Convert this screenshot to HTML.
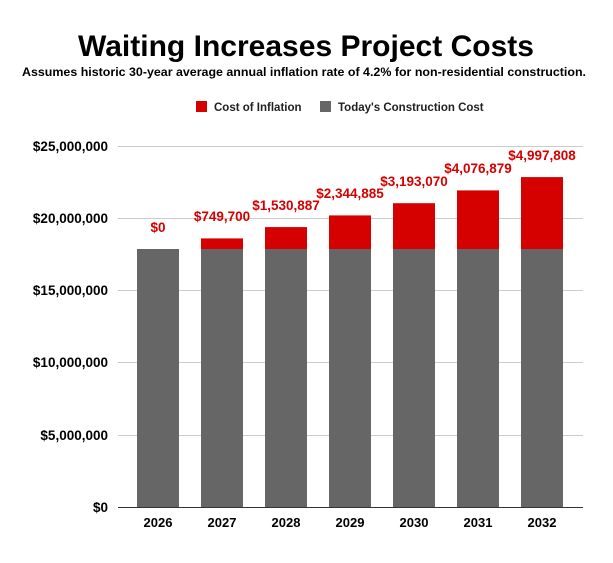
<!DOCTYPE html>
<html><head><meta charset="utf-8"><style>body{margin:0;background:#fff}</style></head><body>
<svg width="613" height="558" xmlns="http://www.w3.org/2000/svg" font-family="Liberation Sans, Arial, sans-serif">
<rect width="613" height="558" fill="#fff"/>
<text x="306" y="56" text-anchor="middle" font-size="30" font-weight="bold" fill="#000" textLength="456" lengthAdjust="spacingAndGlyphs">Waiting Increases Project Costs</text>
<text x="304" y="76" text-anchor="middle" font-size="12" font-weight="bold" fill="#000" textLength="564" lengthAdjust="spacingAndGlyphs">Assumes historic 30-year average annual inflation rate of 4.2% for non-residential construction.</text>
<rect x="196" y="101" width="11" height="11" fill="#d50000"/>
<text x="214" y="111" font-size="11.5" font-weight="bold" fill="#222">Cost of Inflation</text>
<rect x="320" y="101" width="11" height="11" fill="#666"/>
<text x="338" y="111" font-size="11.5" font-weight="bold" fill="#222">Today's Construction Cost</text>
<g stroke="#ccc" stroke-width="1">
<line x1="118" x2="583" y1="146.5" y2="146.5"/>
<line x1="118" x2="583" y1="218.5" y2="218.5"/>
<line x1="118" x2="583" y1="290.5" y2="290.5"/>
<line x1="118" x2="583" y1="362.5" y2="362.5"/>
<line x1="118" x2="583" y1="435.5" y2="435.5"/>
</g>
<line x1="118" x2="583" y1="507.5" y2="507.5" stroke="#333"/>
<g font-size="13.5" font-weight="bold" text-anchor="end" fill="#000">
<text x="108" y="151">$25,000,000</text>
<text x="108" y="223">$20,000,000</text>
<text x="108" y="295">$15,000,000</text>
<text x="108" y="367">$10,000,000</text>
<text x="108" y="440">$5,000,000</text>
<text x="108" y="512">$0</text>
</g>
<g fill="#666">
<rect x="137" y="249" width="42" height="258"/>
<rect x="201" y="249" width="42" height="258"/>
<rect x="265" y="249" width="42" height="258"/>
<rect x="329" y="249" width="42" height="258"/>
<rect x="393" y="249" width="42" height="258"/>
<rect x="457" y="249" width="42" height="258"/>
<rect x="521" y="249" width="42" height="258"/>
</g>
<g fill="#d50000">
<rect x="201" y="238.4" width="42" height="10.6"/>
<rect x="265" y="227.1" width="42" height="21.9"/>
<rect x="329" y="215.4" width="42" height="33.6"/>
<rect x="393" y="203.2" width="42" height="45.8"/>
<rect x="457" y="190.4" width="42" height="58.6"/>
<rect x="521" y="177.1" width="42" height="71.9"/>
</g>
<g font-size="13.5" font-weight="bold" fill="#d50000" text-anchor="middle">
<text x="158" y="232">$0</text>
<text x="222" y="221">$749,700</text>
<text x="286" y="210">$1,530,887</text>
<text x="350" y="198">$2,344,885</text>
<text x="414" y="186">$3,193,070</text>
<text x="478" y="173">$4,076,879</text>
<text x="542" y="160">$4,997,808</text>
</g>
<g font-size="13" font-weight="bold" fill="#000" text-anchor="middle">
<text x="158" y="527">2026</text>
<text x="222" y="527">2027</text>
<text x="286" y="527">2028</text>
<text x="350" y="527">2029</text>
<text x="414" y="527">2030</text>
<text x="478" y="527">2031</text>
<text x="542" y="527">2032</text>
</g>
</svg>
</body></html>
